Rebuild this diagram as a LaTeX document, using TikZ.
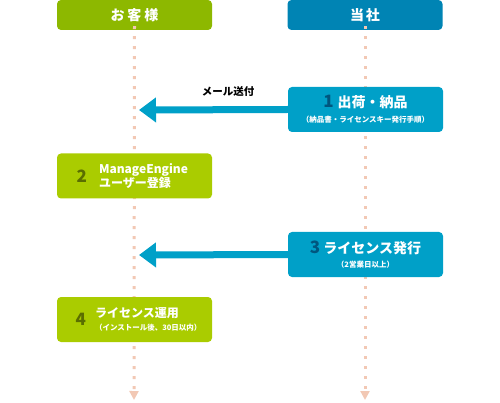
\documentclass[tikz,border=0pt]{standalone}
\usepackage{fontspec}
\setmainfont{Noto Sans CJK JP}
\usetikzlibrary{arrows.meta}
\definecolor{custgreen}{HTML}{8DB800}
\definecolor{ourblue}{HTML}{0084B4}
\definecolor{stepblue}{HTML}{00A0C8}
\definecolor{steplime}{HTML}{AACC00}
\definecolor{numolive}{HTML}{5A6E00}
\definecolor{numblue}{HTML}{00567E}
\definecolor{dotpink}{HTML}{F2C8B4}
\begin{document}
\begin{tikzpicture}[x=1pt, y=-1pt]
        \tikzstyle{every node}=[inner sep=0pt, text=white, font=\bfseries]
        \tikzstyle{head}=[rounded corners=4pt, minimum width=155pt, minimum height=30pt, font=\bfseries\fontsize{14}{16}\selectfont]
        \tikzstyle{stepbox}=[rounded corners=4pt, minimum width=155pt, minimum height=45pt]
        \tikzstyle{num}=[font=\bfseries\fontsize{17}{17}\selectfont]
        \tikzstyle{lifeline}=[dotpink, line width=3pt, dash pattern=on 3pt off 7pt, -{Triangle[width=9pt, length=9pt]}]
        \tikzstyle{send}=[stepblue, line width=7pt, -{Triangle[width=24pt, length=17pt]}]
        \useasboundingbox (0,0) rectangle (500,403);
        % headers and lifelines
        \node [head, fill=custgreen] (cust) at (134.5,15) {お\kern3pt 客\kern3pt 様};
        \node [head, fill=ourblue] (us) at (365,15) {当\kern2pt 社};
        \coordinate (custend) at (134,400);
        \coordinate (usend) at (365,400);
        \draw [lifeline] ([yshift=4pt]cust.south) -- (custend);
        \draw [lifeline] ([yshift=4pt]us.south) -- (usend);
        % steps
        \node [stepbox, fill=stepblue, align=center] (ship) at (365.5,109.5) {{\color{numblue}\fontsize{17}{17}\selectfont 1}\kern4pt{\fontsize{14}{16}\selectfont 出荷・納品}\\[3pt] {\fontsize{7.5}{9}\selectfont （納品書・ライセンスキー発行手順）}};
        \node [stepbox, fill=steplime] (reg) at (134.5,176) {};
        \node [num, text=numolive] (regnum) at ([xshift=25pt]reg.west) {2};
        \node [anchor=west, align=left, font=\bfseries\fontsize{12}{12}\selectfont] (regtext) at ([xshift=42pt]reg.west) {ManageEngine\\ユーザー登録};
        \node [stepbox, fill=stepblue, align=center] (issue) at (365.5,254.5) {{\color{numblue}\fontsize{17}{17}\selectfont 3}\kern3pt{\fontsize{14}{16}\selectfont ライセンス発行}\\[2pt] {\fontsize{7.5}{9}\selectfont （2営業日以上）}};
        \node [stepbox, fill=steplime] (use) at (134.5,319.5) {};
        \node [num, text=numolive] (usenum) at ([xshift=24pt]use.west) {4};
        \node [anchor=west, align=left] (usetext) at ([xshift=38pt]use.west) {{\fontsize{12}{14}\selectfont ライセンス運用}\\[1pt] {\fontsize{7.5}{9}\selectfont （インストール後、30日以内）}};
        % messages
        \coordinate (mailtip) at (139,110);
        \coordinate (keytip) at (139,255);
        \draw [send] (ship.west) -- (mailtip);
        \draw [send] (issue.west) -- (keytip);
        \node [text=black, font=\bfseries\fontsize{10.5}{12}\selectfont] (mail) at (228,92) {メール送付};
\end{tikzpicture}
\end{document}
